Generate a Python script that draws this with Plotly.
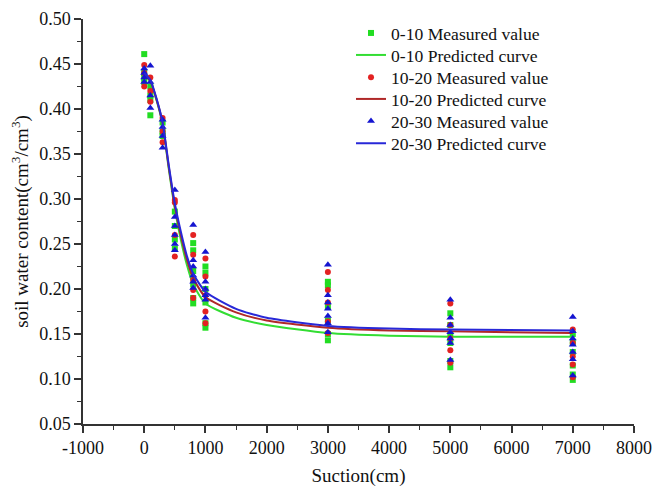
import plotly.graph_objects as go

suction_levels = [0, 100, 300, 500, 800, 1000, 3000, 5000, 7000]

measured_0_10 = {
    0: [0.461, 0.440, 0.435, 0.430],
    100: [0.393, 0.425, 0.415, 0.410],
    300: [0.385, 0.375, 0.370],
    500: [0.286, 0.270, 0.255, 0.245],
    800: [0.251, 0.243, 0.220, 0.205, 0.190, 0.184],
    1000: [0.225, 0.218, 0.200, 0.185, 0.162, 0.157],
    3000: [0.208, 0.204, 0.180, 0.165, 0.150, 0.143],
    5000: [0.173, 0.160, 0.150, 0.140, 0.120, 0.113],
    7000: [0.150, 0.140, 0.130, 0.115, 0.105, 0.099],
}
measured_10_20 = {
    0: [0.449, 0.440, 0.425],
    100: [0.435, 0.420, 0.408],
    300: [0.390, 0.375, 0.363],
    500: [0.299, 0.296, 0.260, 0.236],
    800: [0.260, 0.238, 0.210, 0.199, 0.190],
    1000: [0.234, 0.214, 0.193, 0.175, 0.162],
    3000: [0.219, 0.199, 0.185, 0.164, 0.151],
    5000: [0.184, 0.160, 0.145, 0.132, 0.118],
    7000: [0.155, 0.140, 0.125, 0.116, 0.102],
}
measured_20_30 = {
    0: [0.445, 0.440, 0.435, 0.430],
    100: [0.448, 0.430, 0.415, 0.401],
    300: [0.388, 0.380, 0.370, 0.357],
    500: [0.310, 0.280, 0.270, 0.260, 0.250, 0.243],
    800: [0.271, 0.232, 0.225, 0.215, 0.208, 0.201],
    1000: [0.241, 0.208, 0.200, 0.193, 0.188, 0.168],
    3000: [0.227, 0.193, 0.185, 0.178, 0.170, 0.162, 0.152],
    5000: [0.188, 0.168, 0.160, 0.152, 0.145, 0.140, 0.121],
    7000: [0.169, 0.153, 0.145, 0.138, 0.130, 0.122, 0.104],
}

curve_suction = [0, 100, 200, 300, 400, 500, 600, 700, 800, 1000, 1500, 2000, 3000, 4000, 5000, 7000]
curve_0_10 = [0.440, 0.430, 0.410, 0.383, 0.334, 0.289, 0.254, 0.226, 0.205, 0.184, 0.168, 0.160, 0.151, 0.148, 0.147, 0.147]
curve_10_20 = [0.440, 0.431, 0.411, 0.384, 0.336, 0.292, 0.259, 0.232, 0.212, 0.191, 0.174, 0.165, 0.157, 0.154, 0.153, 0.151]
curve_20_30 = [0.440, 0.432, 0.412, 0.385, 0.338, 0.295, 0.263, 0.236, 0.217, 0.197, 0.178, 0.168, 0.159, 0.156, 0.155, 0.154]

x_tick_values = [-1000, 0, 1000, 2000, 3000, 4000, 5000, 6000, 7000, 8000]
x_tick_labels = ["-1000", "0", "1000", "2000", "3000", "4000", "5000", "6000", "7000", "8000"]

series = [
    ("0-10", measured_0_10, curve_0_10, "#22dd22", "#33dd33", "square", 6),
    ("10-20", measured_10_20, curve_10_20, "#e32222", "#b02828", "circle", 6),
    ("20-30", measured_20_30, curve_20_30, "#1515d0", "#2828d8", "triangle-up", 7),
]

FONT = "Liberation Serif"
LEG_FONT = 17.6
legend_rows_y = [0.9654, 0.9111, 0.8560, 0.8025, 0.7481, 0.6930]
legend_names = ["legend", "legend2", "legend3", "legend4", "legend5", "legend6"]

fig = go.Figure()
k = 0
for name, meas, curve, mcol, lcol, sym, msize in series:
    xs, ys = [], []
    for s in suction_levels:
        for v in meas[s]:
            xs.append(s)
            ys.append(v)
    fig.add_trace(go.Scatter(
        x=xs, y=ys, mode="markers", name=f"{name} Measured value", legend=legend_names[k],
        marker=dict(color=mcol, symbol=sym, size=msize, line=dict(width=0)),
    ))
    k += 1
    fig.add_trace(go.Scatter(
        x=curve_suction, y=curve, mode="lines", name=f"{name} Predicted curve", legend=legend_names[k],
        line=dict(color=lcol, width=2, shape="spline", smoothing=0.6),
    ))
    k += 1

legend_layout = {}
for ln, yy in zip(legend_names, legend_rows_y):
    legend_layout[ln] = dict(
        x=0.4864, y=yy, xanchor="left", yanchor="middle",
        bgcolor="rgba(0,0,0,0)", font=dict(size=LEG_FONT, family=FONT, color="#111"),
        itemwidth=30,
    )

fig.update_layout(
    width=653, height=487,
    margin=dict(l=83, r=19, t=19, b=63),
    paper_bgcolor="white", plot_bgcolor="white",
    font=dict(family=FONT, size=18, color="#111"),
    showlegend=True,
    **legend_layout,
)
fig.update_xaxes(
    range=[-1000, 8000], tickmode="array", tickvals=x_tick_values, ticktext=x_tick_labels,
    showgrid=False, zeroline=False, showline=True, linecolor="#333", linewidth=1.5,
    ticks="outside", ticklen=7, tickwidth=1.5, tickcolor="#333", automargin=False,
    minor=dict(ticks="outside", ticklen=4, tickwidth=1.2, tickcolor="#333", dtick=500, tick0=-1000, showgrid=False),
    tickfont=dict(size=18, family=FONT),
    title=dict(text="Suction(cm)", font=dict(size=19, family=FONT), standoff=15),
)
fig.update_yaxes(
    range=[0.05, 0.50], tickmode="linear", tick0=0.05, dtick=0.05, tickformat=".2f",
    showgrid=False, zeroline=False, showline=True, linecolor="#333", linewidth=1.5,
    ticks="outside", ticklen=7, tickwidth=1.5, tickcolor="#333", automargin=False,
    minor=dict(ticks="outside", ticklen=4, tickwidth=1.2, tickcolor="#333", dtick=0.025, tick0=0.05, showgrid=False),
    tickfont=dict(size=18, family=FONT),
    title=dict(text="soil water content(cm<sup>3</sup>/cm<sup>3</sup>)", font=dict(size=19, family=FONT), standoff=6),
)

fig.write_html(
    "out.html",
    config={"displayModeBar": False},
    post_script="document.body.style.margin='0';document.body.style.overflow='hidden';document.documentElement.style.overflow='hidden';",
)
